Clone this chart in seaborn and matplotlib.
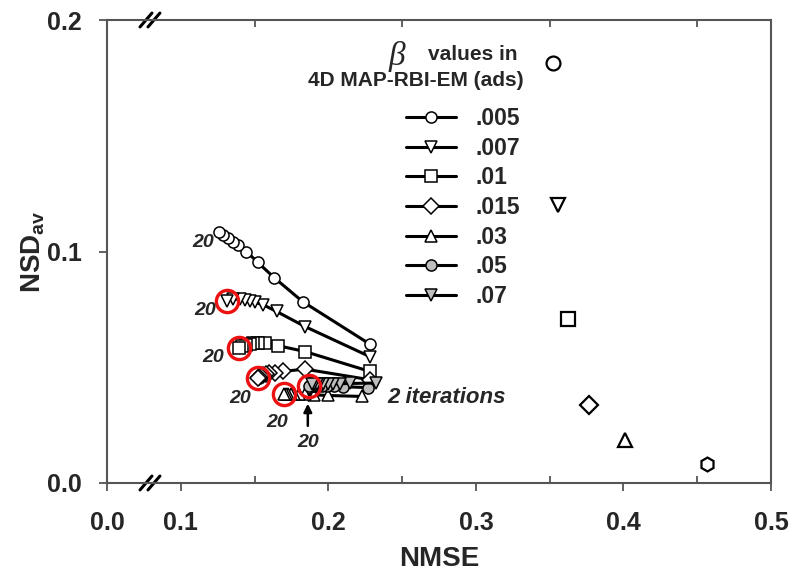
import numpy as np
import matplotlib
matplotlib.use('Agg')
import matplotlib.pyplot as plt
import seaborn as sns

# beta values and their marker styles
betas = ['.005', '.007', '.01', '.015', '.03', '.05', '.07']
markers = ['o', 'v', 's', 'D', '^', 'o', 'v']
fills = ['white', 'white', 'white', 'white', 'white', '#bebebe', '#bebebe']

# NMSE / NSDav along the iterations (2, 4, ..., 20)
nmse_005 = [0.2281, 0.1825, 0.1633, 0.1520, 0.1445, 0.1389, 0.1355, 0.1321, 0.1287, 0.1260]
nsd_005 = [0.0600, 0.0784, 0.0887, 0.0954, 0.1000, 0.1029, 0.1043, 0.1057, 0.1072, 0.1086]
nmse_007 = [0.2281, 0.1841, 0.1649, 0.1558, 0.1502, 0.1468, 0.1434, 0.1400, 0.1355, 0.1310]
nsd_007 = [0.0546, 0.0676, 0.0741, 0.0770, 0.0780, 0.0788, 0.0791, 0.0794, 0.0794, 0.0788]
nmse_01 = [0.2281, 0.1841, 0.1660, 0.1569, 0.1524, 0.1490, 0.1468, 0.1440, 0.1415, 0.1395]
nsd_01 = [0.0482, 0.0568, 0.0593, 0.0604, 0.0604, 0.0604, 0.0602, 0.0598, 0.0592, 0.0583]
nmse_015 = [0.2281, 0.1841, 0.1694, 0.1637, 0.1600, 0.1575, 0.1557, 0.1543, 0.1530, 0.1520]
nsd_015 = [0.0446, 0.0492, 0.0482, 0.0477, 0.0474, 0.0471, 0.0467, 0.0463, 0.0458, 0.0453]
nmse_03 = [0.2225, 0.2000, 0.1900, 0.1840, 0.1800, 0.1770, 0.1748, 0.1728, 0.1712, 0.1698]
nsd_03 = [0.0374, 0.0378, 0.0381, 0.0383, 0.0384, 0.0385, 0.0385, 0.0385, 0.0385, 0.0385]
nmse_05 = [0.2270, 0.2100, 0.2040, 0.1990, 0.1955, 0.1930, 0.1910, 0.1893, 0.1880, 0.1868]
nsd_05 = [0.0412, 0.0416, 0.0418, 0.0419, 0.0420, 0.0420, 0.0420, 0.0420, 0.0420, 0.0420]
nmse_07 = [0.2326, 0.2150, 0.2080, 0.2030, 0.1995, 0.1965, 0.1940, 0.1920, 0.1905, 0.1890]
nsd_07 = [0.0432, 0.0430, 0.0429, 0.0428, 0.0428, 0.0427, 0.0427, 0.0426, 0.0426, 0.0426]

# single points on the right
iso_x = [0.352, 0.3555, 0.3624, 0.3767, 0.4009, 0.4566]
iso_y = [0.1814, 0.120, 0.0709, 0.0338, 0.0187, 0.0083]
iso_markers = ['o', 'v', 's', 'D', '^', 'h']

curves_x = [nmse_005, nmse_007, nmse_01, nmse_015, nmse_03, nmse_05, nmse_07]
curves_y = [nsd_005, nsd_007, nsd_01, nsd_015, nsd_03, nsd_05, nsd_07]

sns.set_style('ticks')
plt.rcParams['font.family'] = ['Liberation Sans', 'DejaVu Sans']
plt.rcParams['font.weight'] = 'bold'
plt.rcParams['mathtext.fontset'] = 'custom'
plt.rcParams['mathtext.bf'] = 'Liberation Sans:bold'
plt.rcParams['mathtext.rm'] = 'Liberation Sans:bold'

fig = plt.figure(figsize=(7.93, 5.76), dpi=100)
ax = fig.add_axes([107 / 793, 1 - 483 / 576, 664 / 793, 463 / 576])

# broken x axis: 0-0.1 squeezed to half
def fwd(x):
    x = np.asarray(x, dtype=float)
    return np.where(x < 0.1, 0.5 * x, x - 0.05)

def inv(t):
    t = np.asarray(t, dtype=float)
    return np.where(t < 0.05, 2 * t, t + 0.05)

ax.set_xscale('function', functions=(fwd, inv))

for xs, ys, lab, m, fc in zip(curves_x, curves_y, betas, markers, fills):
    ms = 8.5 if m == 'D' else 9.5
    sns.lineplot(x=xs, y=ys, sort=False, estimator=None, marker=m, markersize=ms,
                 markerfacecolor=fc, markeredgecolor='black', markeredgewidth=1.1,
                 color='black', linewidth=2.2, label=lab, ax=ax)

for xi, yi, m in zip(iso_x, iso_y, iso_markers):
    ax.plot([xi], [yi], linestyle='none', marker=m, markersize=10 if m != 'D' else 9,
            markerfacecolor='white', markeredgecolor='black', markeredgewidth=1.6)

# iteration-20 points circled in red
red_x = [c[-1] for c in curves_x[1:6]]
red_y = [c[-1] for c in curves_y[1:6]]
ax.plot(red_x, red_y, linestyle='none', marker='o', markersize=16,
        markerfacecolor='none', markeredgecolor='#ee1111', markeredgewidth=2.4)

# annotations
lab_kw = dict(fontsize=14, fontweight='bold', style='italic', ha='center', va='center')
ax.text(0.1149, 0.1041, '20', **lab_kw)
ax.text(0.1163, 0.0746, '20', **lab_kw)
ax.text(0.1217, 0.0541, '20', **lab_kw)
ax.text(0.1400, 0.0364, '20', **lab_kw)
ax.text(0.1651, 0.0260, '20', **lab_kw)
ax.text(0.1861, 0.0175, '20', **lab_kw)
ax.annotate('', xy=(0.1861, 0.0355), xytext=(0.1861, 0.0235),
            arrowprops=dict(arrowstyle='-|>', color='black', lw=1.8, mutation_scale=12))
ax.text(0.2403, 0.0368, '2 iterations', fontsize=16, fontweight='bold', style='italic',
        ha='left', va='center')

ax.set_xlim(0, 0.5)
ax.set_ylim(0, 0.2)
ax.set_xticks([0, 0.1, 0.2, 0.3, 0.4, 0.5])
ax.set_xticklabels(['0.0', '0.1', '0.2', '0.3', '0.4', '0.5'])
ax.set_xticks([0.15, 0.25, 0.35, 0.45], minor=True)
ax.set_yticks([0, 0.1, 0.2])
ax.set_yticklabels(['0.0', '0.1', '0.2'])
ax.tick_params(which='major', axis='x', direction='out', length=6, width=1.3,
               color='#555555', labelsize=18, pad=14, top=False)
ax.tick_params(which='minor', axis='x', direction='in', length=5, width=1.3,
               color='#555555', top=True, bottom=True)
ax.tick_params(which='major', axis='y', direction='out', length=6, width=1.3,
               color='#555555', labelsize=18, pad=12, right=False)
for s in ax.spines.values():
    s.set_color('#555555')
    s.set_linewidth(1.5)

ax.set_xlabel('NMSE', fontsize=20, fontweight='bold')
ax.set_ylabel(r'$\mathbf{NSD_{av}}$', fontsize=20)
ax.xaxis.set_label_coords(0.5, -0.135)
ax.yaxis.set_label_coords(-0.09, 0.5)

# axis break marks
for yb in (0, 1):
    for off in (0, 0.012):
        cx = 0.0587 + off
        ax.plot([cx - 0.009, cx + 0.009], [yb - 0.015, yb + 0.015], color='black',
                lw=2.2, transform=ax.transAxes, clip_on=False)

# legend
handles, labels = ax.get_legend_handles_labels()
for h in handles:
    h.set_markersize(8)
ax.legend(handles, labels, loc='upper left', bbox_to_anchor=(406 / 793, 1 - 107 / 576),
          bbox_transform=fig.transFigure, frameon=False, handlelength=2.2,
          handletextpad=0.85, labelspacing=0.29, borderpad=0, borderaxespad=0,
          numpoints=1, prop={'weight': 'bold', 'size': 16.5})
fig.text(405 / 793, 1 - 57 / 576, 'β', fontsize=24, ha='right', va='center',
         family='Liberation Serif', style='italic', fontweight='normal')
fig.text(517 / 793, 1 - 55 / 576, 'values in', fontsize=15, fontweight='bold',
         ha='right', va='center')
fig.text(524 / 793, 1 - 80 / 576, '4D MAP-RBI-EM (ads)', fontsize=15, fontweight='bold',
         ha='right', va='center')

fig.savefig('out.png', dpi=100)
